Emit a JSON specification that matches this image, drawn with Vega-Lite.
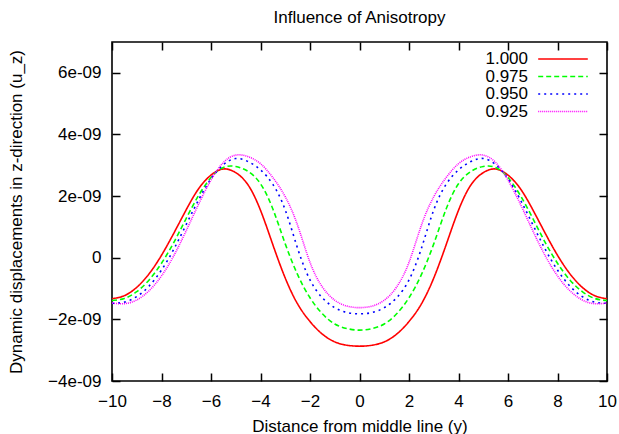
{
"$schema": "https://vega.github.io/schema/vega-lite/v6.json",
"width": 495, "height": 339,
"autosize": {"type": "none"},
"padding": {"left": 112, "top": 42, "right": 12, "bottom": 53},
"background": "white",
"title": {"text": "Influence of Anisotropy", "fontSize": 17, "font": "Liberation Sans", "fontWeight": "normal", "color": "black", "offset": 14},
"config": {
  "font": "Liberation Sans",
  "view": {"stroke": "black", "strokeWidth": 1.6},
  "axis": {"domain": false, "grid": false, "ticks": true, "offset": -8, "tickColor": "#000000", "tickOpacity": 1, "tickSize": 8, "tickWidth": 1.5, "labelFlush": false, "labelColor": "black", "labelFontSize": 17, "titleFontSize": 17, "titleFontWeight": "normal", "titleColor": "black", "labelFont": "Liberation Sans", "titleFont": "Liberation Sans"},
  "legend": {"orient": "none", "legendX": 442, "legendY": 8, "padding": 0, "symbolType": "M-3.1,0H3.1", "symbolSize": 256, "symbolStrokeWidth": 1.6, "labelAlign": "right", "labelOffset": -44, "labelFontSize": 17, "labelColor": "black", "labelFont": "Liberation Sans", "rowPadding": 0.5}
},
"data": {"values": [
{"s":"1.000","x":-10,"u":-1.33e-9},{"s":"1.000","x":-9.5,"u":-1.23e-9},{"s":"1.000","x":-9,"u":-0.96e-9},{"s":"1.000","x":-8.5,"u":-0.52e-9},{"s":"1.000","x":-8,"u":0.08e-9},{"s":"1.000","x":-7.5,"u":0.80e-9},{"s":"1.000","x":-7,"u":1.56e-9},{"s":"1.000","x":-6.5,"u":2.24e-9},{"s":"1.000","x":-6,"u":2.68e-9},{"s":"1.000","x":-5.5,"u":2.88e-9},{"s":"1.000","x":-5,"u":2.76e-9},{"s":"1.000","x":-4.5,"u":2.36e-9},{"s":"1.000","x":-4,"u":1.54e-9},{"s":"1.000","x":-3.5,"u":0.42e-9},{"s":"1.000","x":-3,"u":-0.66e-9},{"s":"1.000","x":-2.5,"u":-1.50e-9},{"s":"1.000","x":-2,"u":-2.07e-9},{"s":"1.000","x":-1.5,"u":-2.48e-9},{"s":"1.000","x":-1,"u":-2.73e-9},{"s":"1.000","x":-0.5,"u":-2.84e-9},{"s":"1.000","x":0,"u":-2.87e-9},
{"s":"1.000","x":0.5,"u":-2.84e-9},{"s":"1.000","x":1,"u":-2.73e-9},{"s":"1.000","x":1.5,"u":-2.48e-9},{"s":"1.000","x":2,"u":-2.07e-9},{"s":"1.000","x":2.5,"u":-1.50e-9},{"s":"1.000","x":3,"u":-0.66e-9},{"s":"1.000","x":3.5,"u":0.42e-9},{"s":"1.000","x":4,"u":1.54e-9},{"s":"1.000","x":4.5,"u":2.36e-9},{"s":"1.000","x":5,"u":2.76e-9},{"s":"1.000","x":5.5,"u":2.88e-9},{"s":"1.000","x":6,"u":2.68e-9},{"s":"1.000","x":6.5,"u":2.24e-9},{"s":"1.000","x":7,"u":1.56e-9},{"s":"1.000","x":7.5,"u":0.80e-9},{"s":"1.000","x":8,"u":0.08e-9},{"s":"1.000","x":8.5,"u":-0.52e-9},{"s":"1.000","x":9,"u":-0.96e-9},{"s":"1.000","x":9.5,"u":-1.23e-9},{"s":"1.000","x":10,"u":-1.33e-9},
{"s":"0.975","x":-10,"u":-1.39e-9},{"s":"0.975","x":-9.5,"u":-1.32e-9},{"s":"0.975","x":-9,"u":-1.10e-9},{"s":"0.975","x":-8.5,"u":-0.72e-9},{"s":"0.975","x":-8,"u":-0.18e-9},{"s":"0.975","x":-7.5,"u":0.50e-9},{"s":"0.975","x":-7,"u":1.28e-9},{"s":"0.975","x":-6.5,"u":2.02e-9},{"s":"0.975","x":-6,"u":2.60e-9},{"s":"0.975","x":-5.5,"u":2.93e-9},{"s":"0.975","x":-5,"u":2.96e-9},{"s":"0.975","x":-4.5,"u":2.80e-9},{"s":"0.975","x":-4,"u":2.40e-9},{"s":"0.975","x":-3.5,"u":1.58e-9},{"s":"0.975","x":-3,"u":0.45e-9},{"s":"0.975","x":-2.5,"u":-0.55e-9},{"s":"0.975","x":-2,"u":-1.30e-9},{"s":"0.975","x":-1.5,"u":-1.82e-9},{"s":"0.975","x":-1,"u":-2.15e-9},{"s":"0.975","x":-0.5,"u":-2.30e-9},{"s":"0.975","x":0,"u":-2.35e-9},
{"s":"0.975","x":0.5,"u":-2.30e-9},{"s":"0.975","x":1,"u":-2.15e-9},{"s":"0.975","x":1.5,"u":-1.82e-9},{"s":"0.975","x":2,"u":-1.30e-9},{"s":"0.975","x":2.5,"u":-0.55e-9},{"s":"0.975","x":3,"u":0.45e-9},{"s":"0.975","x":3.5,"u":1.58e-9},{"s":"0.975","x":4,"u":2.40e-9},{"s":"0.975","x":4.5,"u":2.80e-9},{"s":"0.975","x":5,"u":2.96e-9},{"s":"0.975","x":5.5,"u":2.93e-9},{"s":"0.975","x":6,"u":2.60e-9},{"s":"0.975","x":6.5,"u":2.02e-9},{"s":"0.975","x":7,"u":1.28e-9},{"s":"0.975","x":7.5,"u":0.50e-9},{"s":"0.975","x":8,"u":-0.18e-9},{"s":"0.975","x":8.5,"u":-0.72e-9},{"s":"0.975","x":9,"u":-1.10e-9},{"s":"0.975","x":9.5,"u":-1.32e-9},{"s":"0.975","x":10,"u":-1.39e-9},
{"s":"0.950","x":-10,"u":-1.48e-9},{"s":"0.950","x":-9.5,"u":-1.44e-9},{"s":"0.950","x":-9,"u":-1.26e-9},{"s":"0.950","x":-8.5,"u":-0.92e-9},{"s":"0.950","x":-8,"u":-0.40e-9},{"s":"0.950","x":-7.5,"u":0.28e-9},{"s":"0.950","x":-7,"u":1.08e-9},{"s":"0.950","x":-6.5,"u":1.88e-9},{"s":"0.950","x":-6,"u":2.56e-9},{"s":"0.950","x":-5.5,"u":3.02e-9},{"s":"0.950","x":-5,"u":3.22e-9},{"s":"0.950","x":-4.5,"u":3.12e-9},{"s":"0.950","x":-4,"u":2.85e-9},{"s":"0.950","x":-3.5,"u":2.38e-9},{"s":"0.950","x":-3,"u":1.55e-9},{"s":"0.950","x":-2.5,"u":0.30e-9},{"s":"0.950","x":-2,"u":-0.72e-9},{"s":"0.950","x":-1.5,"u":-1.30e-9},{"s":"0.950","x":-1,"u":-1.62e-9},{"s":"0.950","x":-0.5,"u":-1.78e-9},{"s":"0.950","x":0,"u":-1.82e-9},
{"s":"0.950","x":0.5,"u":-1.78e-9},{"s":"0.950","x":1,"u":-1.62e-9},{"s":"0.950","x":1.5,"u":-1.30e-9},{"s":"0.950","x":2,"u":-0.72e-9},{"s":"0.950","x":2.5,"u":0.30e-9},{"s":"0.950","x":3,"u":1.55e-9},{"s":"0.950","x":3.5,"u":2.38e-9},{"s":"0.950","x":4,"u":2.85e-9},{"s":"0.950","x":4.5,"u":3.12e-9},{"s":"0.950","x":5,"u":3.22e-9},{"s":"0.950","x":5.5,"u":3.02e-9},{"s":"0.950","x":6,"u":2.56e-9},{"s":"0.950","x":6.5,"u":1.88e-9},{"s":"0.950","x":7,"u":1.08e-9},{"s":"0.950","x":7.5,"u":0.28e-9},{"s":"0.950","x":8,"u":-0.40e-9},{"s":"0.950","x":8.5,"u":-0.92e-9},{"s":"0.950","x":9,"u":-1.26e-9},{"s":"0.950","x":9.5,"u":-1.44e-9},{"s":"0.950","x":10,"u":-1.48e-9},
{"s":"0.925","x":-10,"u":-1.47e-9},{"s":"0.925","x":-9.5,"u":-1.49e-9},{"s":"0.925","x":-9,"u":-1.37e-9},{"s":"0.925","x":-8.5,"u":-1.07e-9},{"s":"0.925","x":-8,"u":-0.59e-9},{"s":"0.925","x":-7.5,"u":0.07e-9},{"s":"0.925","x":-7,"u":0.88e-9},{"s":"0.925","x":-6.5,"u":1.74e-9},{"s":"0.925","x":-6,"u":2.52e-9},{"s":"0.925","x":-5.5,"u":3.09e-9},{"s":"0.925","x":-5,"u":3.33e-9},{"s":"0.925","x":-4.5,"u":3.28e-9},{"s":"0.925","x":-4,"u":3.05e-9},{"s":"0.925","x":-3.5,"u":2.60e-9},{"s":"0.925","x":-3,"u":1.98e-9},{"s":"0.925","x":-2.5,"u":1.05e-9},{"s":"0.925","x":-2,"u":-0.15e-9},{"s":"0.925","x":-1.5,"u":-0.95e-9},{"s":"0.925","x":-1,"u":-1.38e-9},{"s":"0.925","x":-0.5,"u":-1.57e-9},{"s":"0.925","x":0,"u":-1.62e-9},
{"s":"0.925","x":0.5,"u":-1.57e-9},{"s":"0.925","x":1,"u":-1.38e-9},{"s":"0.925","x":1.5,"u":-0.95e-9},{"s":"0.925","x":2,"u":-0.15e-9},{"s":"0.925","x":2.5,"u":1.05e-9},{"s":"0.925","x":3,"u":1.98e-9},{"s":"0.925","x":3.5,"u":2.60e-9},{"s":"0.925","x":4,"u":3.05e-9},{"s":"0.925","x":4.5,"u":3.28e-9},{"s":"0.925","x":5,"u":3.33e-9},{"s":"0.925","x":5.5,"u":3.09e-9},{"s":"0.925","x":6,"u":2.52e-9},{"s":"0.925","x":6.5,"u":1.74e-9},{"s":"0.925","x":7,"u":0.88e-9},{"s":"0.925","x":7.5,"u":0.07e-9},{"s":"0.925","x":8,"u":-0.59e-9},{"s":"0.925","x":8.5,"u":-1.07e-9},{"s":"0.925","x":9,"u":-1.37e-9},{"s":"0.925","x":9.5,"u":-1.49e-9},{"s":"0.925","x":10,"u":-1.47e-9}
]},
"layer": [
  {
    "mark": {"type": "line", "interpolate": "natural", "strokeWidth": 1.6},
    "encoding": {
      "x": {"field": "x", "type": "quantitative", "scale": {"domain": [-10, 10], "nice": false}, "axis": {"orient": "bottom", "values": [-10,-8,-6,-4,-2,0,2,4,6,8,10], "labelPadding": 12, "title": "Distance from middle line (y)", "titlePadding": 9}},
      "y": {"field": "u", "type": "quantitative", "scale": {"domain": [-4e-9, 7e-9], "nice": false, "zero": false}, "axis": {"orient": "left", "values": [-4e-9,-2e-9,0,2e-9,4e-9,6e-9], "labelExpr": "abs(datum.value) < 1e-12 ? '0' : format(datum.value / 1e-9, 'd') + 'e-09'", "labelPadding": 11, "title": "Dynamic displacements in z-direction (u_z)", "titlePadding": 22}},
      "color": {"field": "s", "type": "nominal", "scale": {"domain": ["1.000","0.975","0.950","0.925"], "range": ["#ff0000","#00ff00","#0000ff","#ff00ff"]}, "legend": {"title": null}},
      "strokeDash": {"field": "s", "type": "nominal", "scale": {"domain": ["1.000","0.975","0.950","0.925"], "range": [[1,0],[5,3],[2,4],[1,1]]}, "legend": {"title": null}}
    }
  },
  {
    "mark": {"type": "line", "opacity": 0},
    "encoding": {
      "x": {"field": "x", "type": "quantitative", "axis": {"orient": "top", "values": [-10,-8,-6,-4,-2,0,2,4,6,8,10], "labels": false, "title": null}},
      "y": {"field": "u", "type": "quantitative", "axis": {"orient": "right", "values": [-4e-9,-2e-9,0,2e-9,4e-9,6e-9], "labels": false, "title": null}},
      "detail": {"field": "s"}
    }
  }
],
"resolve": {"axis": {"x": "independent", "y": "independent"}}
}
